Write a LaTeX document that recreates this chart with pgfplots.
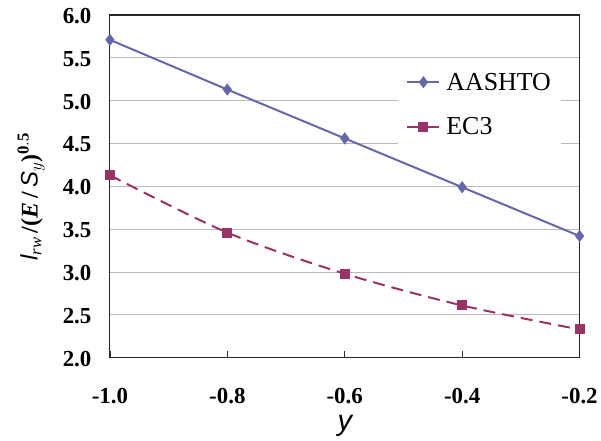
\documentclass[border=0pt]{standalone}
\usepackage{pgfplots}
\pgfplotsset{compat=1.18}
\usepackage{fontspec}
\setmainfont{Liberation Serif}
\newfontfamily\sansf{Liberation Sans}
\definecolor{aash}{RGB}{102,102,170}
\definecolor{ecc}{RGB}{153,51,102}
\begin{document}
\begin{tikzpicture}[x=1bp,y=1bp]
\begin{axis}[name=ax,
  scale only axis, width=470bp, height=343bp,
  xmin=-1.0, xmax=-0.2, ymin=2.0, ymax=6.0,
  xtick={-1.0,-0.8,-0.6,-0.4,-0.2},
  ytick={2.0,2.5,3.0,3.5,4.0,4.5,5.0,5.5,6.0},
  /pgf/number format/assume math mode=true,
  xticklabel={\bfseries\pgfmathprintnumber[fixed,fixed zerofill,precision=1]{\tick}},
  yticklabel={\bfseries\pgfmathprintnumber[fixed,fixed zerofill,precision=1]{\tick}},
  ticklabel style={font=\fontsize{23}{25}\selectfont},
  xticklabel style={yshift=-27bp},
  yticklabel style={xshift=-15bp, yshift=-1bp},
  ymajorgrids, grid style={gray!55, line width=0.8bp},
  x tick style={black!80, line width=0.8bp}, y tick style={draw=none},
  xtick align=inside, tick pos=left, major tick length=7bp,
  axis line style={black!85, line width=1.1bp},
  xlabel={\sansf\itshape y},
  xlabel style={font=\fontsize{29}{31}\selectfont, at={(axis description cs:0.5,-0.213)}, anchor=base},
  ylabel={\sansf\itshape l$_{\mathit{rw}}$\rmfamily\upshape\bfseries\,/(\textit{E}\,/\,\sansf\itshape\mdseries S$_{y}$\rmfamily\upshape\bfseries)$^{\mathbf{0.5}}$},
  ylabel style={font=\fontsize{24}{26}\selectfont, at={(axis description cs:-0.168,0.47)}, anchor=center},
  legend style={at={(0.614,0.855)}, anchor=north west, draw=none, fill=white,
    font=\fontsize{26}{28}\selectfont, row sep=22bp, inner xsep=8bp, inner ysep=6bp,
    /tikz/every odd column/.append style={column sep=4bp}},
  legend image code/.code={%
    \draw[mark repeat=2, mark phase=2] plot coordinates {(0bp,0bp) (16bp,0bp) (32bp,0bp)};},
  legend cell align=left,
]
\addplot[color=aash, line width=2bp, mark=diamond*, mark size=4.5bp, mark options={solid, fill=aash}]
  coordinates {(-1.0,5.71) (-0.8,5.13) (-0.6,4.56) (-0.4,3.99) (-0.2,3.42)};
\addlegendentry{AASHTO}
\addplot[color=ecc, line width=2bp, smooth, dash pattern=on 12bp off 7bp, mark=square*, mark size=4bp, mark options={solid, fill=ecc}]
  coordinates {(-1.0,4.13) (-0.8,3.46) (-0.6,2.98) (-0.4,2.61) (-0.2,2.33)};
\addlegendentry{EC3}
\end{axis}
\path ([xshift=-110bp,yshift=-81bp]ax.south west) rectangle ([xshift=21bp,yshift=15bp]ax.north east);
\end{tikzpicture}
\end{document}
